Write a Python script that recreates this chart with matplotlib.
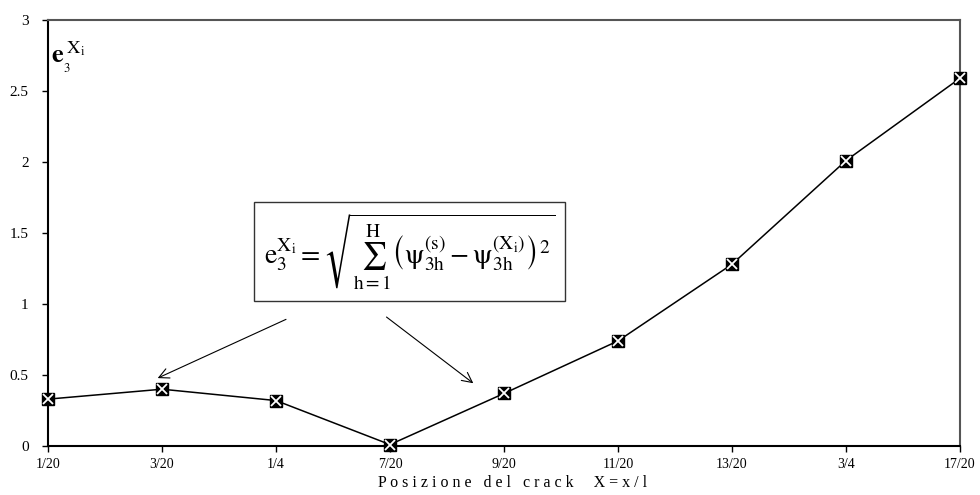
import matplotlib.pyplot as plt
import numpy as np

# dati
labels = ['1/20', '3/20', '1/4', '7/20', '9/20', '11/20', '13/20', '3/4', '17/20']
err = [0.33, 0.40, 0.32, 0.01, 0.37, 0.74, 1.28, 2.01, 2.59]

plt.rcParams['font.family'] = 'Liberation Serif'
plt.rcParams['mathtext.fontset'] = 'stix'

fig = plt.figure(figsize=(9.8, 4.95), dpi=100)
ax = fig.add_axes([48/980, 49/495, 912/980, 426/495])

xs = np.arange(len(labels))
ax.plot(xs, err, '-', color='black', lw=1.1, zorder=3)
ax.plot(xs, err, 's', color='black', ms=8.5, zorder=4, clip_on=False)
ax.plot(xs, err, 'x', color='white', ms=6.5, mew=1.3, zorder=5, clip_on=False)

ax.set_xlim(0, len(labels) - 1)
ax.set_ylim(0, 3)
ax.set_xticks(xs)
ax.set_xticklabels(labels, fontsize=10)
ax.set_yticks([0, 0.5, 1, 1.5, 2, 2.5, 3])
ax.set_yticklabels(['0', '0.5', '1', '1.5', '2', '2.5', '3'], fontsize=11)
ax.tick_params(axis='both', direction='out', length=4, width=1, color='black')
ax.tick_params(axis='y', pad=10)
ax.tick_params(axis='x', pad=5)

for s in ['left', 'bottom']:
    ax.spines[s].set_linewidth(1.5)
    ax.spines[s].set_color('black')
for s in ['top', 'right']:
    ax.spines[s].set_linewidth(1.5)
    ax.spines[s].set_color('#555555')

# titolo asse x posizionato a mano
fig.text(0.523, 0.025, 'P o s i z i o n e   d e l   c r a c k     X = x / l',
         fontsize=11.5, ha='center', va='center')

ax.text(0.03, 2.74, r'$\mathbf{e}_{_3}^{\;\mathrm{X_{i}}}$', fontsize=19, ha='left', va='center')

formula = (r'$\mathrm{e}_3^{\mathrm{X_i}} = \sqrt{\sum_{\mathrm{h}=1}^{\mathrm{H}}'
           r'\left(\mathrm{\psi}_{\mathrm{3h}}^{(\mathrm{s})} - \mathrm{\psi}_{\mathrm{3h}}^{(\mathrm{X_i})}\right)^2}$')
ax.text(3.17, 1.37, formula, fontsize=20, ha='center', va='center',
        bbox=dict(boxstyle='square,pad=0.35', fc='white', ec='#333333', lw=1))

ax.annotate('', xy=(0.94, 0.47), xytext=(2.11, 0.90),
            arrowprops=dict(arrowstyle='->', color='black', lw=0.8, mutation_scale=18))
ax.annotate('', xy=(3.75, 0.43), xytext=(2.95, 0.92),
            arrowprops=dict(arrowstyle='->', color='black', lw=0.8, mutation_scale=18))

fig.savefig('out.png', dpi=100)
